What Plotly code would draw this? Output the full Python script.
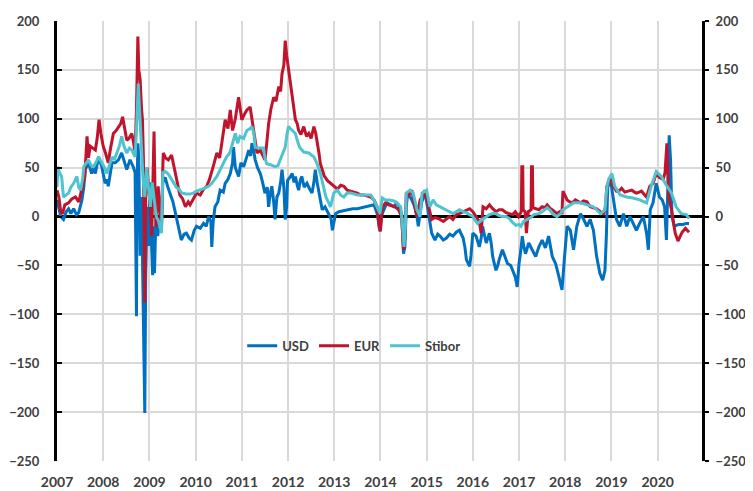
import plotly.graph_objects as go

# spreads in basis points (decimal years)
usd_t = [2007.00, 2007.04, 2007.08, 2007.14, 2007.20, 2007.25, 2007.30, 2007.36, 2007.42, 2007.47,
         2007.54, 2007.58, 2007.61, 2007.68, 2007.75, 2007.80, 2007.83, 2007.90, 2007.97, 2008.04,
         2008.08, 2008.11, 2008.19, 2008.26, 2008.33, 2008.40, 2008.46, 2008.51, 2008.58, 2008.65,
         2008.69, 2008.71, 2008.72, 2008.73, 2008.75, 2008.77, 2008.80, 2008.83, 2008.86, 2008.88,
         2008.90, 2008.92, 2008.95, 2008.98, 2009.01, 2009.04, 2009.07, 2009.09, 2009.11, 2009.14,
         2009.18, 2009.22, 2009.26, 2009.29, 2009.34, 2009.40, 2009.46, 2009.51, 2009.58, 2009.64,
         2009.69, 2009.75, 2009.80, 2009.86, 2009.91, 2009.97, 2010.02, 2010.10, 2010.17, 2010.23,
         2010.28, 2010.33, 2010.35, 2010.38, 2010.42, 2010.48, 2010.53, 2010.60, 2010.64, 2010.70,
         2010.75, 2010.80, 2010.82, 2010.86, 2010.93, 2010.98, 2011.04, 2011.10, 2011.15, 2011.19,
         2011.22, 2011.26, 2011.29, 2011.34, 2011.40, 2011.45, 2011.50, 2011.55, 2011.58, 2011.62,
         2011.65, 2011.69, 2011.72, 2011.76, 2011.80, 2011.84, 2011.87, 2011.91, 2011.94, 2011.97,
         2011.99, 2012.04, 2012.09, 2012.13, 2012.16, 2012.20, 2012.23, 2012.27, 2012.30, 2012.35,
         2012.41, 2012.47, 2012.52, 2012.56, 2012.59, 2012.63, 2012.67, 2012.71, 2012.74, 2012.80,
         2012.85, 2012.90, 2012.93, 2012.96, 2013.00, 2013.03, 2013.10, 2013.20, 2013.29, 2013.40,
         2013.50, 2013.60, 2013.71, 2013.80, 2013.86, 2013.93, 2013.99, 2014.03, 2014.10, 2014.14,
         2014.22, 2014.29, 2014.35, 2014.39, 2014.46, 2014.49, 2014.50, 2014.53, 2014.56, 2014.59,
         2014.64, 2014.68, 2014.74, 2014.79, 2014.82, 2014.86, 2014.89, 2014.93, 2014.96, 2015.00,
         2015.04, 2015.08, 2015.11, 2015.18, 2015.24, 2015.29, 2015.36, 2015.43, 2015.50, 2015.57,
         2015.64, 2015.71, 2015.79, 2015.83, 2015.86, 2015.93, 2015.96, 2016.00, 2016.07, 2016.14,
         2016.18, 2016.21, 2016.25, 2016.29, 2016.36, 2016.40, 2016.43, 2016.50, 2016.54, 2016.57,
         2016.64, 2016.70, 2016.75, 2016.82, 2016.86, 2016.92, 2016.96, 2017.00, 2017.04, 2017.07,
         2017.10, 2017.14, 2017.21, 2017.29, 2017.36, 2017.43, 2017.50, 2017.57, 2017.64, 2017.72,
         2017.79, 2017.86, 2017.93, 2017.98, 2018.04, 2018.11, 2018.18, 2018.25, 2018.33, 2018.40,
         2018.47, 2018.54, 2018.61, 2018.68, 2018.75, 2018.81, 2018.86, 2018.89, 2018.92, 2018.99,
         2019.04, 2019.11, 2019.18, 2019.26, 2019.33, 2019.40, 2019.47, 2019.54, 2019.61, 2019.69,
         2019.76, 2019.80, 2019.84, 2019.90, 2019.97, 2020.04, 2020.10, 2020.15, 2020.19, 2020.25,
         2020.28, 2020.31, 2020.36, 2020.45, 2020.55, 2020.62, 2020.68]
usd = [17, 8, 0, -3, 5, 8, 3, 8, 2, 4,
       17, 30, 48, 55, 44, 50, 44, 61, 51, 34,
       38, 31, 55, 55, 58, 65, 55, 48, 58, 51,
       45, -30, -102, 20, 75, 60, -40, 20, -80, -135,
       -201, -60, 10, -30, 35, -20, -60, -10, -58, 0,
       -20, -5, -15, 35, 40, 30, 22, 15, 0, -12,
       -24, -18, -17, -22, -24, -14, -10, -12, -7, -10,
       0, -5, -31, -5, 10, 15, 27, 25, 34, 38,
       44, 55, 71, 50, 41, 55, 51, 60, 68, 62,
       75, 66, 58, 50, 44, 35, 24, 30, 10, 25,
       31, 15, -3, 20, 24, 35, 48, 30, -3, 10,
       37, 40, 44, 35, 41, 32, 27, 38, 41, 30,
       34, 28, 24, 35, 48, 35, 24, 15, 7, 10,
       5, 0, -2, -14, -5, 3, 5, 6, 7, 8,
       8, 9, 10, 11, 12, 3, -15, 2, 10, 14,
       12, 10, 14, 12, 2, -30, -38, -31, 10, 24,
       20, 17, 10, 0, -10, 5, 14, 20, 24, 15,
       3, -8, -17, -24, -18, -20, -24, -22, -18, -20,
       -16, -14, -22, -32, -44, -51, -40, -17, -20, -31,
       -22, -10, -18, -27, -17, -28, -41, -55, -50, -44,
       -34, -42, -48, -50, -55, -62, -72, -48, -34, -20,
       -30, -38, -27, -34, -41, -31, -24, -32, -20, -41,
       -48, -61, -75, -44, -10, -14, -34, -10, 3, -3,
       -10, -3, -14, -41, -58, -65, -55, -20, 31, 34,
       17, -3, -10, 3, -10, 0, -7, -14, -7, 0,
       -17, -34, 7, 14, 34, 20, 17, 10, -24, 83,
       57, 0, -10, -8, -8, -7, -7]

eur_t = [2007.00, 2007.04, 2007.08, 2007.12, 2007.17, 2007.25, 2007.32, 2007.40, 2007.47, 2007.54,
         2007.60, 2007.65, 2007.68, 2007.72, 2007.78, 2007.83, 2007.87, 2007.91, 2007.95, 2008.00,
         2008.05, 2008.11, 2008.16, 2008.22, 2008.28, 2008.33, 2008.38, 2008.42, 2008.47, 2008.51,
         2008.56, 2008.62, 2008.66, 2008.69, 2008.72, 2008.74, 2008.75, 2008.77, 2008.80, 2008.83,
         2008.85, 2008.87, 2008.89, 2008.90, 2008.92, 2008.95, 2008.98, 2009.02, 2009.05, 2009.08,
         2009.10, 2009.12, 2009.15, 2009.19, 2009.22, 2009.26, 2009.29, 2009.30, 2009.35, 2009.41,
         2009.48, 2009.54, 2009.60, 2009.66, 2009.72, 2009.78, 2009.84, 2009.88, 2009.95, 2010.02,
         2010.10, 2010.17, 2010.24, 2010.30, 2010.38, 2010.46, 2010.52, 2010.57, 2010.60, 2010.64,
         2010.70, 2010.75, 2010.80, 2010.86, 2010.93, 2010.97, 2011.00, 2011.06, 2011.11, 2011.18,
         2011.22, 2011.25, 2011.29, 2011.33, 2011.40, 2011.45, 2011.50, 2011.54, 2011.58, 2011.63,
         2011.69, 2011.74, 2011.80, 2011.84, 2011.87, 2011.91, 2011.94, 2011.97, 2012.01, 2012.05,
         2012.09, 2012.13, 2012.16, 2012.20, 2012.23, 2012.28, 2012.34, 2012.40, 2012.45, 2012.50,
         2012.56, 2012.60, 2012.63, 2012.67, 2012.70, 2012.78, 2012.85, 2012.93, 2012.99, 2013.07,
         2013.14, 2013.21, 2013.28, 2013.36, 2013.43, 2013.50, 2013.57, 2013.65, 2013.72, 2013.79,
         2013.86, 2013.93, 2013.97, 2014.00, 2014.04, 2014.11, 2014.18, 2014.25, 2014.32, 2014.39,
         2014.46, 2014.50, 2014.53, 2014.56, 2014.61, 2014.68, 2014.72, 2014.79, 2014.86, 2014.93,
         2014.96, 2015.04, 2015.11, 2015.18, 2015.25, 2015.36, 2015.43, 2015.50, 2015.57, 2015.64,
         2015.71, 2015.79, 2015.86, 2015.93, 2016.00, 2016.07, 2016.14, 2016.18, 2016.22, 2016.29,
         2016.36, 2016.43, 2016.50, 2016.57, 2016.64, 2016.72, 2016.79, 2016.86, 2016.92, 2016.99,
         2017.05, 2017.06, 2017.08, 2017.09, 2017.13, 2017.16, 2017.20, 2017.26, 2017.27, 2017.29,
         2017.30, 2017.36, 2017.43, 2017.50, 2017.56, 2017.61, 2017.68, 2017.72, 2017.78, 2017.82,
         2017.88, 2017.93, 2017.95, 2018.00, 2018.04, 2018.10, 2018.15, 2018.22, 2018.28, 2018.33,
         2018.40, 2018.47, 2018.54, 2018.61, 2018.68, 2018.76, 2018.83, 2018.87, 2018.90, 2018.97,
         2019.04, 2019.11, 2019.18, 2019.22, 2019.29, 2019.36, 2019.44, 2019.50, 2019.54, 2019.60,
         2019.65, 2019.72, 2019.76, 2019.83, 2019.90, 2019.97, 2020.04, 2020.12, 2020.16, 2020.20,
         2020.24, 2020.30, 2020.38, 2020.44, 2020.53, 2020.60, 2020.68]
eur = [27, 20, 5, 3, 12, 14, 18, 20, 15, 27,
       40, 82, 60, 72, 70, 68, 80, 99, 85, 72,
       65, 55, 70, 85, 88, 92, 95, 102, 90, 78,
       80, 85, 75, 65, 110, 160, 184, 150, 140, 110,
       99, 60, -10, -88, 20, 50, 30, 10, -20, 40,
       87, 30, -10, 31, 10, -14, 50, 65, 60, 58,
       63, 48, 35, 22, 18, 10, 15, 12, 18, 24,
       22, 28, 31, 38, 51, 65, 60, 75, 85, 99,
       90, 109, 88, 100, 122, 110, 99, 105, 109, 112,
       100, 88, 75, 65, 68, 62, 58, 75, 95, 110,
       122, 118, 133, 128, 146, 155, 180, 165, 150, 135,
       122, 110, 99, 95, 88, 84, 92, 82, 85, 80,
       92, 85, 78, 65, 54, 42, 37, 34, 31, 28,
       32, 31, 27, 26, 25, 24, 22, 22, 21, 20,
       17, 10, -10, -15, 10, 14, 12, 11, 10, 7,
       0, -34, -20, 24, 22, 27, 17, 0, 17, 22,
       27, 10, -3, -1, -2, -5, -2, 0, -3, 2,
       3, 5, 6, 8, 5, 0, -5, -17, 10, 8,
       12, 8, 5, 7, 7, 4, 3, 2, 5, 0,
       5, 51, 51, 7, 5, -17, 5, 7, 51, 51,
       9, 8, 7, 10, 9, 12, 8, 7, 5, 3,
       5, 4, 26, 20, 17, 15, 14, 17, 15, 14,
       16, 15, 10, 9, 8, 5, 3, 10, 31, 39,
       31, 26, 27, 29, 25, 26, 27, 25, 24, 25,
       26, 22, 20, 31, 34, 44, 40, 38, 45, 75,
       20, 7, -17, -25, -16, -12, -16]

stibor_t = [2007.00, 2007.02, 2007.05, 2007.10, 2007.14, 2007.20, 2007.25, 2007.30, 2007.36, 2007.43,
            2007.47, 2007.51, 2007.56, 2007.58, 2007.63, 2007.68, 2007.74, 2007.79, 2007.85, 2007.90,
            2007.97, 2008.03, 2008.08, 2008.13, 2008.19, 2008.24, 2008.29, 2008.35, 2008.40, 2008.45,
            2008.51, 2008.57, 2008.62, 2008.69, 2008.72, 2008.74, 2008.76, 2008.78, 2008.80, 2008.83,
            2008.86, 2008.90, 2008.94, 2008.98, 2009.02, 2009.06, 2009.10, 2009.15, 2009.20, 2009.26,
            2009.29, 2009.34, 2009.40, 2009.46, 2009.52, 2009.58, 2009.64, 2009.70, 2009.80, 2009.88,
            2009.95, 2010.02, 2010.10, 2010.20, 2010.28, 2010.35, 2010.46, 2010.57, 2010.67, 2010.74,
            2010.78, 2010.86, 2010.91, 2010.96, 2011.04, 2011.11, 2011.18, 2011.22, 2011.26, 2011.29,
            2011.35, 2011.40, 2011.47, 2011.50, 2011.54, 2011.62, 2011.72, 2011.78, 2011.83, 2011.90,
            2011.94, 2011.98, 2012.01, 2012.05, 2012.09, 2012.16, 2012.20, 2012.25, 2012.34, 2012.45,
            2012.56, 2012.63, 2012.70, 2012.76, 2012.82, 2012.85, 2012.92, 2012.99, 2013.07, 2013.14,
            2013.21, 2013.28, 2013.36, 2013.50, 2013.65, 2013.79, 2013.86, 2013.93, 2013.99, 2014.04,
            2014.11, 2014.20, 2014.29, 2014.36, 2014.44, 2014.48, 2014.51, 2014.54, 2014.56, 2014.64,
            2014.71, 2014.79, 2014.86, 2014.90, 2015.00, 2015.07, 2015.14, 2015.21, 2015.29, 2015.36,
            2015.43, 2015.50, 2015.57, 2015.64, 2015.71, 2015.79, 2015.86, 2015.93, 2016.00, 2016.05,
            2016.10, 2016.21, 2016.29, 2016.36, 2016.43, 2016.50, 2016.57, 2016.64, 2016.72, 2016.79,
            2016.86, 2016.93, 2017.00, 2017.04, 2017.10, 2017.18, 2017.25, 2017.32, 2017.43, 2017.50,
            2017.61, 2017.68, 2017.72, 2017.82, 2017.90, 2017.95, 2018.04, 2018.12, 2018.18, 2018.33,
            2018.47, 2018.61, 2018.70, 2018.76, 2018.82, 2018.86, 2018.90, 2018.94, 2019.01, 2019.07,
            2019.19, 2019.33, 2019.47, 2019.61, 2019.76, 2019.86, 2019.97, 2020.08, 2020.19, 2020.30,
            2020.40, 2020.51, 2020.62, 2020.68]
stibor = [30, 51, 45, 41, 20, 22, 24, 30, 34, 41,
          30, 27, 40, 51, 55, 58, 52, 51, 56, 61,
          55, 50, 44, 52, 61, 58, 65, 72, 82, 72,
          65, 70, 68, 61, 90, 125, 136, 115, 100, 70,
          40, 20, 50, 30, 10, 35, 20, 0, -5, -17,
          45, 46, 44, 40, 35, 30, 28, 24, 23, 23,
          24, 26, 27, 29, 31, 34, 41, 51, 61, 65,
          71, 85, 75, 82, 80, 88, 90, 92, 85, 71,
          70, 70, 70, 60, 54, 53, 51, 52, 58, 65,
          71, 85, 92, 90, 88, 85, 78, 71, 66, 65,
          61, 54, 44, 31, 20, 17, 10, 24, 27, 22,
          20, 24, 24, 22, 22, 22, 17, 10, 3, 19,
          17, 17, 16, 14, 10, -10, -31, -10, 24, 27,
          24, 7, 0, 24, 27, 10, 17, 12, 10, 8,
          7, 5, 3, 5, 7, 5, 4, 2, 0, -4,
          -7, -3, 0, 2, 3, 3, 1, 0, 0, -2,
          -6, -9, -8, -10, -5, -3, -1, 2, 3, 5,
          9, 6, 3, 0, 3, 7, 10, 12, 14, 14,
          12, 10, 6, 3, 5, 7, 30, 38, 44, 31,
          22, 20, 19, 17, 14, 31, 46, 41, 32, 24,
          10, 3, 2, -2]

years = list(range(2007, 2021))

FONT = dict(family="Lato, Open Sans, sans-serif", size=14, color="#404040", weight="bold")
YFONT = dict(family="Lato, Open Sans, sans-serif", size=13, color="#404040", weight="bold")

fig = go.Figure()
fig.add_trace(go.Scatter(x=usd_t, y=usd, mode='lines', name='USD',
                         line=dict(color='#0070C0', width=3)))
fig.add_trace(go.Scatter(x=eur_t, y=eur, mode='lines', name='EUR',
                         line=dict(color='#C0142C', width=3)))
fig.add_trace(go.Scatter(x=stibor_t, y=stibor, mode='lines', name='Stibor', yaxis='y2',
                         line=dict(color='#4FC3CF', width=3)))

# the page body adds an 8px offset, so the figure is 8px smaller and margins shifted
fig.update_layout(
    width=745, height=483,
    margin=dict(l=49, r=51, t=13, b=30),
    plot_bgcolor='white', paper_bgcolor='white',
    font=FONT,
    showlegend=True,
    legend=dict(orientation='h', x=0.46, y=0.262, xanchor='center', yanchor='middle',
                font=dict(family="Lato, Open Sans, sans-serif", size=13, color="#404040", weight="bold"),
                bgcolor='rgba(0,0,0,0)', itemwidth=30),
    xaxis=dict(range=[2007, 2020.96], tickvals=years, ticktext=[str(y) for y in years],
               showgrid=True, gridcolor='#D9D9D9', gridwidth=1.5, showline=False, zeroline=False,
               ticks='outside', ticklen=8, tickcolor='rgba(0,0,0,0)', tickfont=FONT,
               automargin=False),
    yaxis=dict(range=[-250, 200], dtick=50, showgrid=True, gridcolor='#D9D9D9', gridwidth=1.5,
               zeroline=True, zerolinecolor='black', zerolinewidth=2.5,
               showline=True, linecolor='black', linewidth=3,
               ticks='inside', ticklen=5, tickwidth=2, tickcolor='black',
               ticklabelstandoff=12, tickfont=YFONT, automargin=False),
    yaxis2=dict(range=[-250, 200], dtick=50, overlaying='y', side='right', anchor='x',
                showgrid=False, zeroline=False,
                showline=True, linecolor='black', linewidth=3,
                ticks='outside', ticklen=4, tickwidth=2, tickcolor='black',
                ticklabelstandoff=4, tickfont=YFONT, automargin=False),
)

fig.write_html("out.html")
